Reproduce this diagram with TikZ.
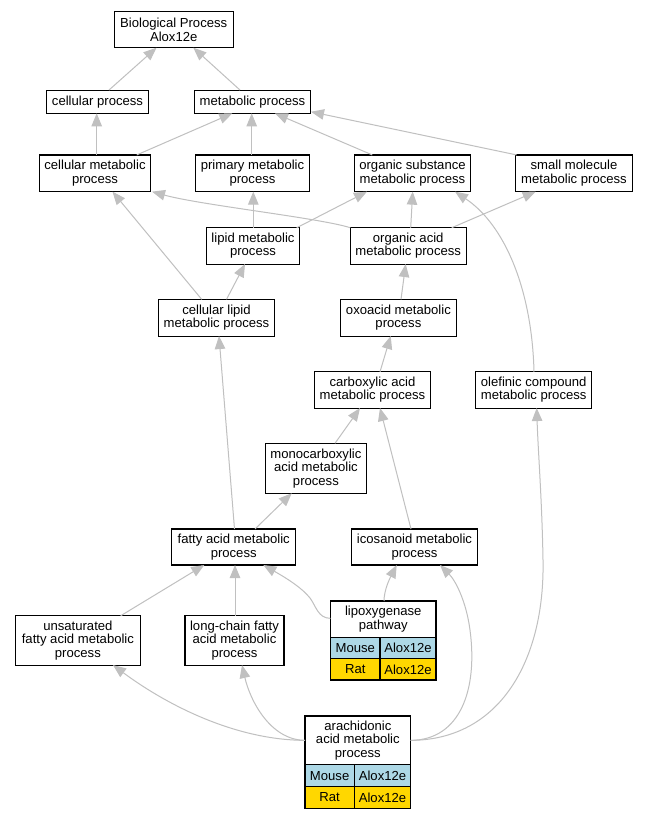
\documentclass[tikz,border=0pt]{standalone}
\usepackage{fontspec}
\setmainfont{Liberation Sans}
\usetikzlibrary{arrows.meta}
\definecolor{edgegray}{HTML}{C0C0C0}
\definecolor{mouseblue}{HTML}{ADD8E6}
\definecolor{ratgold}{HTML}{FFD700}
\begin{document}
\begin{tikzpicture}[x=1pt,y=-1pt,
  box/.style={draw=black, line width=1.1pt, fill=white, inner sep=0pt, outer sep=0pt, align=center, font=\fontsize{13.1}{13.4}\selectfont},
  cell/.style={draw=black, line width=1.1pt, inner sep=0pt, outer sep=0pt, anchor=north west, font=\fontsize{13.1}{13.4}\selectfont},
  edge/.style={draw=edgegray, line width=1pt, -{Triangle[length=13pt,width=10.5pt]}}
]
\fill[white] (0,0) rectangle (647,819);
\path[use as bounding box] (0,0) rectangle (647,819);

% nodes
\node[box, minimum width=119.3pt, minimum height=36pt] (bp) at (173.7,29.7) {Biological Process\\Alox12e};
\node[box, minimum width=101.6pt, minimum height=23.3pt] (cp) at (97.5,101.7) {cellular process};
\node[box, minimum width=116.4pt, minimum height=23.3pt] (mp) at (252.5,101.7) {metabolic process};
\node[box, minimum width=111.4pt, minimum height=36.7pt] (cmp) at (95,173.3) {cellular metabolic\\process};
\node[box, minimum width=113.6pt, minimum height=36.7pt] (pmp) at (252.5,173.3) {primary metabolic\\process};
\node[box, minimum width=116.4pt, minimum height=36.7pt] (osmp) at (412.5,173.3) {organic substance\\metabolic process};
\node[box, minimum width=116.6pt, minimum height=36.7pt] (smmp) at (574,173.3) {small molecule\\metabolic process};
\node[box, minimum width=92.6pt, minimum height=36.3pt] (lmp) at (253,245.9) {lipid metabolic\\process};
\node[box, minimum width=115.7pt, minimum height=36.3pt] (oamp) at (408.2,245.9) {organic acid\\metabolic process};
\node[box, minimum width=116.4pt, minimum height=36.7pt] (clmp) at (216.5,317.7) {cellular lipid\\metabolic process};
\node[box, minimum width=115.3pt, minimum height=36.7pt] (oxmp) at (398.4,317.7) {oxoacid metabolic\\process};
\node[box, minimum width=116.4pt, minimum height=36.3pt] (camp) at (372.5,389.9) {carboxylic acid\\metabolic process};
\node[box, minimum width=116pt, minimum height=36.3pt] (ocmp) at (533.7,389.9) {olefinic compound\\metabolic process};
\node[box, minimum width=101.7pt, minimum height=50pt] (mcmp) at (315.9,468.3) {monocarboxylic\\acid metabolic\\process};
\node[box, minimum width=124pt, minimum height=36pt] (famp) at (233.7,547) {fatty acid metabolic\\process};
\node[box, minimum width=125.6pt, minimum height=36pt] (icmp) at (414.5,547) {icosanoid metabolic\\process};
\node[box, minimum width=124.3pt, minimum height=49.3pt] (ufamp) at (77.9,640.4) {unsaturated\\fatty acid metabolic\\process};
\node[box, minimum width=99pt, minimum height=49.3pt] (lcfamp) at (234.5,640.4) {long-chain fatty\\acid metabolic\\process};

% lipoxygenase pathway table
\node[box, minimum width=105.5pt, minimum height=36.3pt] (lox) at (383.25,619.15) {lipoxygenase\\pathway};
\node[cell, fill=mouseblue, minimum width=49.5pt, minimum height=21.4pt] (loxm) at (330.5,637.3) {Mouse};
\node[cell, fill=mouseblue, minimum width=56pt, minimum height=21.4pt] (loxmg) at (380,637.3) {Alox12e};
\node[cell, fill=ratgold, minimum width=49.5pt, minimum height=21.3pt] (loxr) at (330.5,658.7) {Rat};
\node[cell, fill=ratgold, minimum width=56pt, minimum height=21.3pt] (loxrg) at (380,658.7) {Alox12e};

% arachidonic acid table
\node[box, minimum width=105.7pt, minimum height=48.7pt] (aa) at (357.85,740.35) {arachidonic\\acid metabolic\\process};
\node[cell, fill=mouseblue, minimum width=49.3pt, minimum height=22pt] (aam) at (305,764.7) {Mouse};
\node[cell, fill=mouseblue, minimum width=56.4pt, minimum height=22pt] (aamg) at (354.3,764.7) {Alox12e};
\node[cell, fill=ratgold, minimum width=49.3pt, minimum height=21.6pt] (aar) at (305,786.7) {Rat};
\node[cell, fill=ratgold, minimum width=56.4pt, minimum height=21.6pt] (aarg) at (354.3,786.7) {Alox12e};

% edges
\draw[edge] ([xshift=11.5pt]cp.north) -- ([xshift=-17.2pt]bp.south);
\draw[edge] ([xshift=-12.5pt]mp.north) -- ([xshift=19.6pt]bp.south);
\draw[edge] ([xshift=1.7pt]cmp.north) -- ([xshift=-0.8pt]cp.south);
\draw[edge] ([xshift=41.7pt]cmp.north) -- ([xshift=-20.2pt]mp.south);
\draw[edge] ([xshift=-0.8pt]pmp.north) -- ([xshift=-0.8pt]mp.south);
\draw[edge] ([xshift=-40.2pt]osmp.north) -- ([xshift=22.5pt]mp.south);
\draw[edge] ([xshift=-57.3pt]smmp.north) -- ([xshift=0.3pt,yshift=1.6pt]mp.south east);
\draw[edge] ([xshift=0.3pt]lmp.north) -- ([xshift=0.8pt]pmp.south);
\draw[edge] ([xshift=43.7pt]lmp.north) -- ([xshift=-45.5pt]osmp.south);
\draw[edge] ([xshift=2.5pt]oamp.north) -- ([xshift=0.2pt]osmp.south);
\draw[edge] ([xshift=43.5pt]oamp.north) -- ([xshift=-38.3pt]smmp.south);
\draw[edge] (oamp.north west) .. controls (320,218) and (200,205) .. ([xshift=1.3pt]cmp.south east);
\draw[edge] ([xshift=10pt]clmp.north) -- ([xshift=-8pt]lmp.south);
\draw[edge] ([xshift=-14.8pt]clmp.north) -- ([xshift=17.5pt]cmp.south);
\draw[edge] ([xshift=2.6pt]oxmp.north) -- ([xshift=-2.5pt]oamp.south);
\draw[edge] ([xshift=7.5pt]camp.north) -- ([xshift=-7.7pt]oxmp.south);
\draw[edge] ([xshift=19.1pt]mcmp.north) -- ([xshift=-12.5pt]camp.south);
\draw[edge] ([xshift=-3.5pt]icmp.north) -- ([xshift=7.5pt]camp.south);
\draw[edge] ([xshift=0.3pt]ocmp.north) .. controls (532,290) and (505,225) .. ([xshift=42.5pt]osmp.south);
\draw[edge] ([xshift=0.8pt]famp.north) -- ([xshift=2.5pt]clmp.south);
\draw[edge] ([xshift=21.3pt]famp.north) -- ([xshift=-24.2pt]mcmp.south);
\draw[edge] ([xshift=42.8pt]ufamp.north) -- ([xshift=-29.4pt]famp.south);
\draw[edge] ([xshift=0.5pt]lcfamp.north) -- ([xshift=1.3pt]famp.south);
\draw[edge] ([yshift=0.8pt]lox.west) .. controls (318,618.3) and (316,606) .. (310,598) .. controls (302,588) and (288,579) .. ([xshift=29.6pt]famp.south);
\draw[edge] ([xshift=0.75pt]lox.north) .. controls (384,590) and (390,578) .. ([xshift=-17.8pt]icmp.south);
\draw[edge] (aa.west) .. controls (230,740) and (160,700) .. ([xshift=35.1pt]ufamp.south);
\draw[edge] (aa.west) .. controls (270,740) and (250,700) .. ([xshift=7.5pt]lcfamp.south);
\draw[edge] (aa.east) .. controls (460,740) and (478,690) .. (470,630) .. controls (466,600) and (455,580) .. ([xshift=25.5pt]icmp.south);
\draw[edge] (aa.east) .. controls (500,740) and (545,660) .. (543,560) .. controls (542,500) and (538,450) .. ([xshift=3pt]ocmp.south);
\end{tikzpicture}
\end{document}
